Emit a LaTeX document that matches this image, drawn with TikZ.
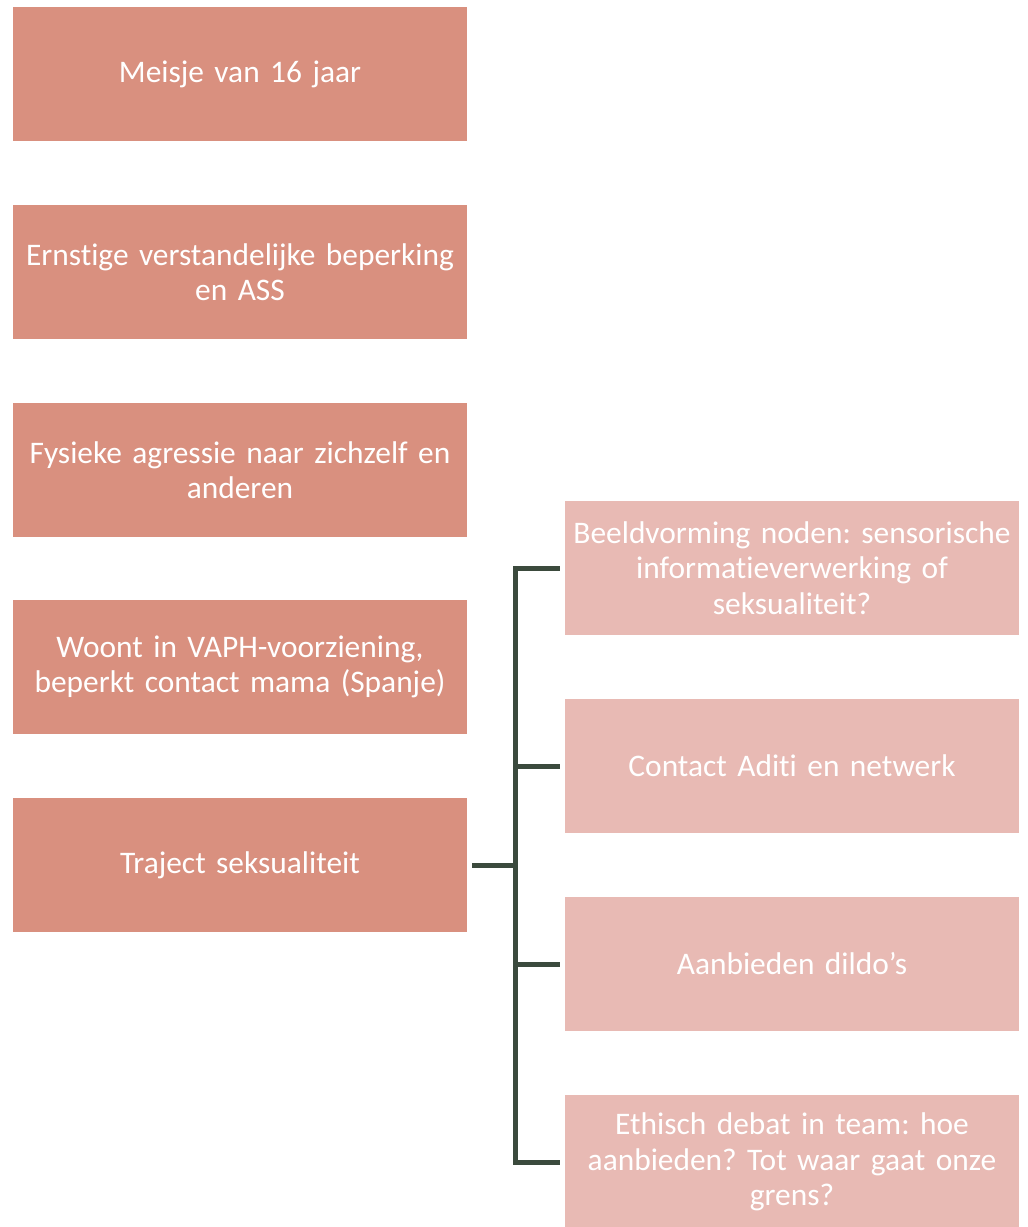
\documentclass[tikz,border=0pt]{standalone}
\usepackage{fontspec}
\setmainfont{Carlito}[Ligatures={NoCommon},RawFeature={-liga;-clig;-dlig}]
\frenchspacing
\definecolor{leftc}{HTML}{D9907F}
\definecolor{rightc}{HTML}{E8BAB4}
\definecolor{linec}{HTML}{3B4A3D}
\begin{document}
\begin{tikzpicture}[x=1pt,y=-1pt,
  box/.style={minimum width=454pt,minimum height=134pt,inner sep=0pt,text width=448pt,align=center,text=white,
    font=\fontsize{31.4}{35.5}\selectfont},
  lbox/.style={box,fill=leftc},
  rbox/.style={box,fill=rightc},
  conn/.style={draw=linec,line width=5pt,line join=miter,shorten <=5pt}]
\useasboundingbox (0,0) rectangle (1028,1227);
\node[lbox] (a1) at (240,74) {Meisje van 16 jaar};
\node[lbox] (a2) at (240,272) {Ernstige verstandelijke beperking\\en ASS};
\node[lbox] (a3) at (240,470) {Fysieke agressie naar zichzelf en\\anderen};
\node[lbox] (a4) at (240,667) {Woont in VAPH-voorziening,\\beperkt contact mama (Spanje)};
\node[lbox] (t) at (240,865) {Traject seksualiteit};
\node[rbox] (b1) at (792,568) {Beeldvorming noden: sensorische\\informatieverwerking of\\seksualiteit?};
\node[rbox] (b2) at (792,766) {Contact Aditi en netwerk};
\node[rbox] (b3) at (792,964) {Aanbieden dildo’s};
\node[rbox] (b4) at (792,1162) {Ethisch debat in team: hoe\\aanbieden? Tot waar gaat onze\\grens?};
\coordinate (j) at (515,865);
\draw[conn] (t.east) -- (j);
\draw[conn] (b1.west) -| (j);
\draw[conn] (b2.west) -| (j);
\draw[conn] (b3.west) -| (j);
\draw[conn] (b4.west) -| (j);
\end{tikzpicture}
\end{document}
